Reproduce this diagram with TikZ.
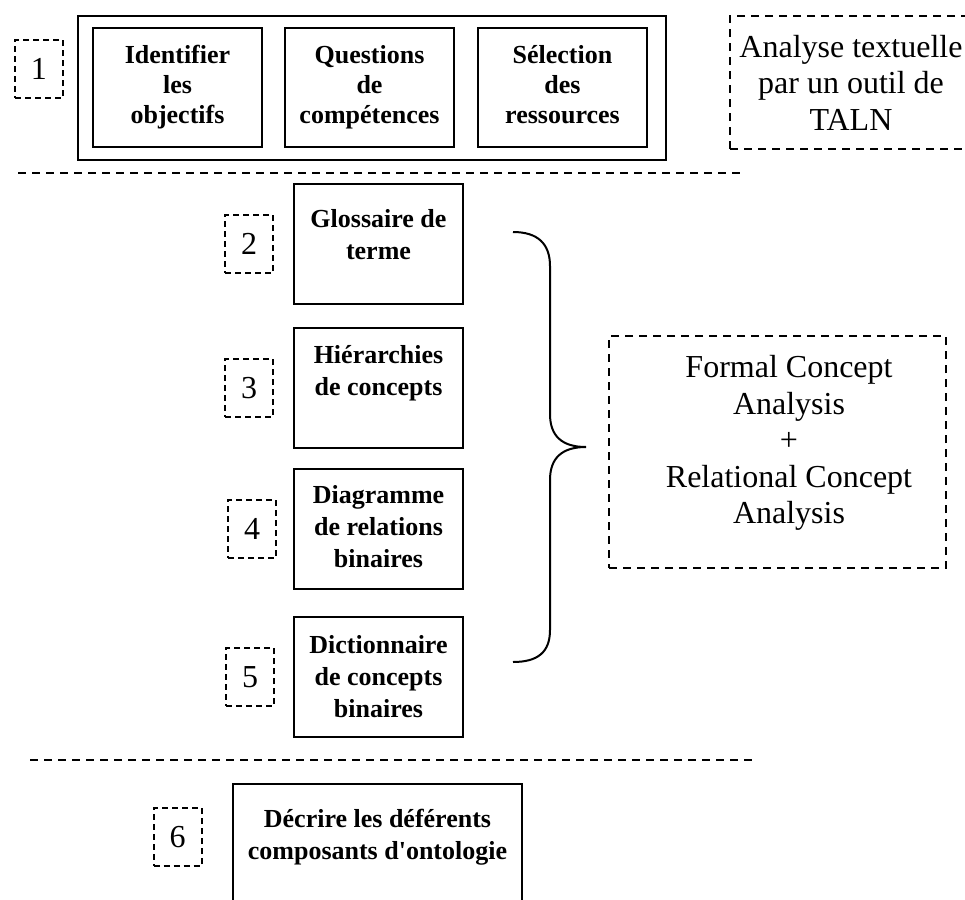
\documentclass[tikz,border=0pt]{standalone}
\usepackage{fontspec}
\setmainfont{Liberation Serif}
\usetikzlibrary{positioning}

\begin{document}
\begin{tikzpicture}[x=0.5pt, y=-0.5pt]
	\tikzset{
		etape/.style = {draw, line width=1pt, minimum width=84.5pt, minimum height=60pt, inner sep=0pt, outer sep=0pt},
		titre/.style = {anchor=north, align=center, inner sep=0pt, font=\fontsize{13}{16}\selectfont\bfseries},
		numero/.style = {draw, dash pattern=on 3pt off 2pt, line width=1pt, minimum width=24pt, minimum height=29pt, inner sep=0pt, outer sep=0pt, font=\fontsize{16}{18}\selectfont},
		cadre/.style = {draw, dash pattern=on 4pt off 3pt, line width=1pt, inner sep=0pt, outer sep=0pt},
		texte/.style = {align=center, inner sep=0pt, font=\fontsize{16}{18.25}\selectfont}
	}
	\useasboundingbox (0,0) rectangle (965,900);
	\clip (0,0) rectangle (965,900);

	\node[draw, line width=1pt, minimum width=294pt, minimum height=72pt, outer sep=0pt] (bloc) at (372,88) {};
	\node[etape, minimum height=59.5pt] (b1) at (177.5,87.5) {};
	\node[etape, minimum height=59.5pt, right=11.5pt of b1] (b2) {};
	\node[etape, minimum height=59.5pt, right=12pt of b2] (b3) {};
	\node[titre, font=\fontsize{13}{15}\selectfont\bfseries] (t1) at ([yshift=-8.5pt]b1.north) {Identifier\\les\\objectifs};
	\node[titre, font=\fontsize{13}{15}\selectfont\bfseries] (t2) at ([yshift=-8.5pt]b2.north) {Questions\\de\\compétences};
	\node[titre, font=\fontsize{13}{15}\selectfont\bfseries] (t3) at ([yshift=-8.5pt]b3.north) {Sélection\\des\\ressources};
	\node[numero] (n1) at (39,69) {1};
	\node[cadre, texte, minimum width=121pt, minimum height=66.5pt] (taln) at (851,82.5) {Analyse textuelle\\par un outil de\\TALN};

	\coordinate (s1a) at (18,173);
	\coordinate (s1b) at (740,173);
	\draw[cadre] (s1a) -- (s1b);

	\node[etape] (c1) at (378.5,244) {};
	\node[etape, below=12pt of c1] (c2) {};
	\node[etape, below=10.5pt of c2] (c3) {};
	\node[etape, below=14pt of c3] (c4) {};
	\node[titre] (t4) at ([yshift=-12.5pt]c1.north) {Glossaire de\\terme};
	\node[titre] (t5) at ([yshift=-8.5pt]c2.north) {Hiérarchies\\de concepts};
	\node[titre] (t6) at ([yshift=-8pt]c3.north) {Diagramme\\de relations\\binaires};
	\node[titre] (t7) at ([yshift=-9pt]c4.north) {Dictionnaire\\de concepts\\binaires};
	\node[numero, left=10.5pt of c1] (n2) {2};
	\node[numero, left=10.5pt of c2] (n3) {3};
	\node[numero, left=9pt of c3] (n4) {4};
	\node[numero, left=10pt of c4] (n5) {5};

	\coordinate (acc1) at (513,232);
	\coordinate (acc2) at (586,447);
	\coordinate (acc3) at (513,662);
	\draw[line width=1pt] (acc1) .. controls (538,232) and (550,244) .. (550,266) -- (550,414)
		.. controls (550,436) and (562,447) .. (acc2)
		.. controls (562,447) and (550,458) .. (550,480) -- (550,630)
		.. controls (550,652) and (538,662) .. (acc3);

	\node[cadre, minimum width=168.5pt, minimum height=116pt] (fca) at (777.5,452) {};
	\node[texte, anchor=north] (tfca) at ([xshift=5.75pt, yshift=-9.5pt]fca.north) {Formal Concept\\Analysis\\+\\Relational Concept\\Analysis};

	\coordinate (s2a) at (30,760);
	\coordinate (s2b) at (752,760);
	\draw[cadre] (s2a) -- (s2b);

	\node[etape, minimum width=144.5pt, minimum height=68pt] (c5) at (377.5,852) {};
	\node[titre] (t8) at ([yshift=-12.5pt]c5.north) {Décrire les déférents\\composants d\textquotesingle ontologie};
	\node[numero] (n6) at (177.5,837) {6};
\end{tikzpicture}
\end{document}
